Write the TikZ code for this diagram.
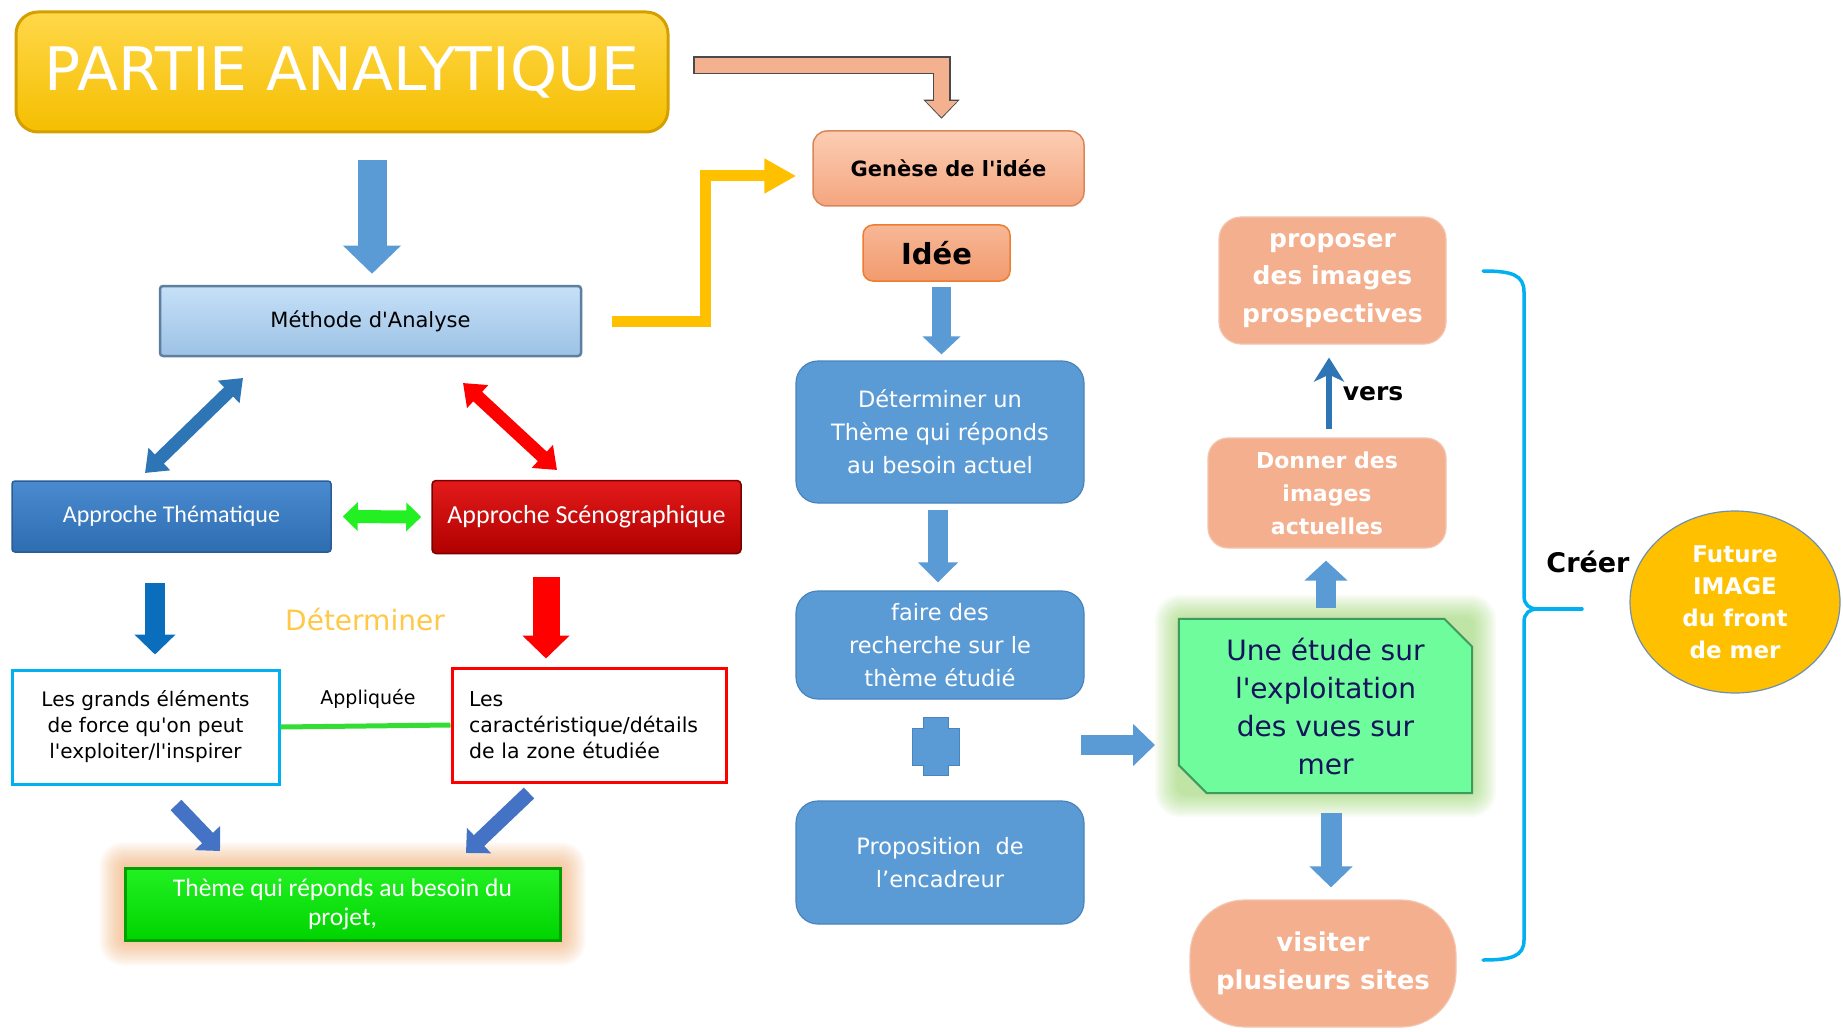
\documentclass[tikz,border=0pt]{standalone}
\usepackage{fontspec}
\setmainfont{DejaVu Sans}
\newfontfamily\calfont{Carlito}
\usetikzlibrary{arrows.meta,calc,backgrounds,shapes.geometric}
\newcommand\fsz[2]{\fontsize{#1pt}{#2pt}\selectfont}
\newcommand\sq{\textquotesingle}
\definecolor{gold1}{HTML}{FFD84A}
\definecolor{gold2}{HTML}{F5BE00}
\definecolor{goldd}{HTML}{D4A000}
\definecolor{ygold}{HTML}{FFC000}
\definecolor{mblue}{HTML}{5B9BD5}
\definecolor{mblued}{HTML}{4A84BC}
\definecolor{ablue}{HTML}{5B9BD5}
\definecolor{dblue}{HTML}{2E75B6}
\definecolor{tblue}{HTML}{0A6EBD}
\definecolor{pblue}{HTML}{4472C4}
\definecolor{salm}{HTML}{F4AF8E}
\definecolor{salmd}{HTML}{F2C6B0}
\definecolor{salmarr}{HTML}{F4B190}
\definecolor{salmarrd}{HTML}{4A4A4A}
\definecolor{lgreen}{HTML}{22F022}
\definecolor{lgreen2}{HTML}{33DD33}
\definecolor{egreen}{HTML}{6FFC9C}
\definecolor{egreend}{HTML}{3E9A5E}
\definecolor{navy}{HTML}{14145A}
\definecolor{detcol}{RGB}{255,200,70}
\definecolor{cyanb}{HTML}{00B0F0}
\definecolor{meth1}{HTML}{C6E0F8}
\definecolor{meth2}{HTML}{9CC2E5}
\definecolor{methd}{HTML}{5E7FA0}
\definecolor{them1}{HTML}{4A8AD0}
\definecolor{them2}{HTML}{2E6DB0}
\definecolor{themd}{HTML}{2A5D95}
\definecolor{scen1}{HTML}{E31A1A}
\definecolor{scen2}{HTML}{B00000}
\definecolor{scend}{HTML}{7A0000}
\definecolor{thm1}{HTML}{22F022}
\definecolor{thm2}{HTML}{00D400}
\definecolor{thmd}{HTML}{00A000}
\definecolor{gen1}{HTML}{FCCDB3}
\definecolor{gen2}{HTML}{F4A57E}
\definecolor{gend}{HTML}{D9875A}
\definecolor{ide1}{HTML}{F7B796}
\definecolor{ide2}{HTML}{F29B6E}
\definecolor{ided}{HTML}{ED7D31}
\definecolor{elld}{HTML}{6E8FB0}
\definecolor{glowo}{HTML}{F7A25B}
\definecolor{glowg}{HTML}{8CD45A}
\newcommand\glow[4]{%
  \foreach \k in {1,...,12}{%
    \fill[#2, fill opacity=0.06, rounded corners=#4+\k*1.5pt]
      ($(#1.north west)+({-\k*#3/12},{-\k*#3/12})$) rectangle ($(#1.south east)+({\k*#3/12},{\k*#3/12})$);
  }}
\begin{document}
\begin{tikzpicture}[x=1pt,y=-1pt,
  box/.style={rectangle, inner sep=0pt, align=center},
  mbox/.style={box, fill=mblue, draw=mblued, line width=1.2pt, rounded corners=22pt, minimum width=288pt, text=white, font=\fsz{22.5}{33}},
  sbox/.style={box, fill=salm, draw=salmd, line width=1.2pt, text=white},
  barrow/.style n args={4}{draw=#1, line width=#2, -{Triangle[width=#3,length=#4]}},
  dbarrow/.style n args={4}{draw=#1, line width=#2, {Triangle[width=#3,length=#4]}-{Triangle[width=#3,length=#4]}},
  brace/.style={draw=cyanb, line width=3.5pt, line cap=round},
]
\begin{scope}[on background layer]
\fill[white] (0,0) rectangle (1843,1032);
\end{scope}
\useasboundingbox (0,0) rectangle (1843,1032);

% ---------- nodes, left part
\node[box, minimum width=652pt, minimum height=120pt, rounded corners=22pt, top color=gold1, bottom color=gold2, draw=goldd, line width=3pt, text=white, font=\fsz{60}{72}] (title) at (342,72) {PARTIE ANALYTIQUE};
\node[box, minimum width=421pt, minimum height=70pt, rounded corners=3pt, top color=meth1, bottom color=meth2, draw=methd, line width=2.5pt, font=\fsz{21}{25}] (meth) at (370.5,321) {Méthode d\sq Analyse};
\node[box, minimum width=319pt, minimum height=71pt, rounded corners=3pt, top color=them1, bottom color=them2, draw=themd, line width=1.5pt, text=white, font=\calfont\fsz{24}{28}] (them) at (171.5,516.5) {Approche Thématique};
\node[box, minimum width=309pt, minimum height=73pt, rounded corners=4pt, top color=scen1, bottom color=scen2, draw=scend, line width=1.5pt, text=white, font=\calfont\fsz{26}{30}] (sceno) at (586.5,517) {Approche Scénographique};
\node[box, minimum width=267pt, minimum height=114pt, draw=cyanb, line width=3pt, font=\fsz{20}{26}] (grands) at (145.5,727) {Les grands éléments\\de force qu\sq on peut\\l\sq exploiter/l\sq inspirer};
\node[box, minimum width=274pt, minimum height=114pt, draw=red, line width=3pt, align=left, text width=240pt, font=\fsz{20.5}{26}] (carac) at (589,725) {Les\\caractéristique/détails\\de la zone étudiée};
\node[box, minimum width=435pt, minimum height=72pt, top color=thm1, bottom color=thm2, draw=thmd, line width=3pt, text=white, font=\calfont\fsz{25.5}{29}] (theme) at (342.5,904) {Thème qui réponds au besoin du\\projet,};
\node[box, text=detcol, font=\fsz{28}{32}] (detlbl) at (365,619) {Déterminer};
\node[box, font=\fsz{19}{22}] (appl) at (368,699) {Appliquée};

% ---------- middle column
\node[box, minimum width=271pt, minimum height=75pt, rounded corners=14pt, top color=gen1, bottom color=gen2, draw=gend, line width=1.5pt, font=\bfseries\fsz{21}{25}] (genese) at (948.5,168.5) {Genèse de l\sq idée};
\node[box, minimum width=147pt, minimum height=56pt, rounded corners=10pt, top color=ide1, bottom color=ide2, draw=ided, line width=1.5pt, font=\bfseries\fsz{29}{32}] (idee) at (936.5,253) {Idée};
\node[mbox, minimum height=142pt] (det) at (940,432) {Déterminer un\\Thème qui réponds\\au besoin actuel};
\node[mbox, minimum height=108pt] (faire) at (940,645) {faire des\\recherche sur le\\thème étudié};
\node[mbox, minimum height=123pt] (prop) at (940,862.5) {Proposition\ \ de\\l’encadreur};

% ---------- right column
\node[sbox, minimum width=227pt, minimum height=127pt, rounded corners=22pt, font=\bfseries\fsz{25}{37.5}] (propo) at (1332.5,280.5) {proposer\\des images\\prospectives};
\node[sbox, minimum width=238pt, minimum height=110pt, rounded corners=20pt, font=\bfseries\fsz{22}{33}] (donner) at (1327,493) {Donner des\\images\\actuelles};
\node[box, minimum width=293pt, minimum height=174pt, text=navy, font=\fsz{28}{38}] (etude) at (1325.5,706) {Une étude sur\\l\sq exploitation\\des vues sur\\mer};
\node[sbox, minimum width=266pt, minimum height=127pt, rounded corners=55pt, font=\bfseries\fsz{26}{38}] (visiter) at (1323,963.5) {visiter\\plusieurs sites};
\node[ellipse, inner sep=0pt, align=center, minimum width=210pt, minimum height=182pt, fill=ygold, draw=elld, line width=1.2pt, text=white, font=\bfseries\fsz{23}{32}] (future) at (1735,602) {Future\\IMAGE\\du front\\de mer};
\node[box, font=\bfseries\fsz{25}{28}] (vers) at (1373,394) {vers};
\node[box, font=\bfseries\fsz{27}{30}] (creer) at (1588,562) {Créer};

% ---------- backgrounds: glows and chamfered box
\begin{scope}[on background layer]
\glow{theme}{glowo}{24}{6pt}
\glow{etude}{glowg}{24}{8pt}
\fill[egreen, draw=egreend, line width=2pt] (etude.north west) -- ([xshift=-28pt]etude.north east) -- ([yshift=-28pt]etude.north east) -- (etude.south east) -- ([xshift=28pt]etude.south west) -- ([yshift=28pt]etude.south west) -- cycle;
\end{scope}

% ---------- connectors
\draw[barrow={ablue}{29pt}{56pt}{28pt}, shorten <=27pt, shorten >=11pt] ([xshift=30pt]title.south) -- ([xshift=1.5pt]meth.north);
\draw[draw=salmarrd, line width=18pt, line join=miter, -{Triangle[width=35pt,length=19pt]}, shorten >=11.5pt, shorten <=-1.5pt] ([shift={(25pt,6.5pt)}]title.east) -| ([xshift=-7pt]genese.north);
\draw[draw=salmarr, line width=15pt, line join=miter, -{Triangle[width=30pt,length=16pt]}, shorten >=13pt] ([shift={(25pt,6.5pt)}]title.east) -| ([xshift=-7pt]genese.north);
\draw[draw=ygold, line width=11pt, line join=miter, -{Triangle[width=33pt,length=32pt]}, shorten >=16pt] ([xshift=30pt]meth.east) -- ++(93.5,0) |- ([yshift=-7.5pt]genese.west);

\coordinate (d1a) at (145,473); \coordinate (d1b) at (243,378);
\coordinate (d2a) at (463,383); \coordinate (d2b) at (557,470);
\draw[dbarrow={dblue}{13pt}{30pt}{20pt}] (d1a) -- (d1b);
\draw[dbarrow={red}{13pt}{30pt}{20pt}] (d2a) -- (d2b);
\draw[dbarrow={lgreen}{13pt}{28pt}{15pt}, shorten <=11pt, shorten >=10pt] (them.east) -- (sceno.west);
\draw[barrow={tblue}{20pt}{40pt}{20pt}, shorten <=30pt, shorten >=14pt] ([xshift=-16.5pt]them.south) -- ([xshift=9.5pt]grands.north);
\draw[barrow={red}{27pt}{46pt}{23pt}, shorten <=23pt, shorten >=8pt] ([xshift=-40.5pt]sceno.south) -- ([xshift=-43pt]carac.north);
\draw[lgreen2, line width=5pt] (grands.east) -- (carac.west);
\coordinate (d3a) at (176,805); \coordinate (d3b) at (220,851);
\coordinate (d4a) at (529,793); \coordinate (d4b) at (466,853);
\draw[barrow={pblue}{15pt}{34pt}{18pt}] (d3a) -- (d3b);
\draw[barrow={pblue}{15pt}{34pt}{18pt}] (d4a) -- (d4b);

\draw[barrow={mblue}{19pt}{37pt}{18pt}, shorten <=5pt, shorten >=6pt] ([xshift=5pt]idee.south) -- ([xshift=1.5pt]det.north);
\draw[barrow={mblue}{20pt}{39pt}{20pt}, shorten <=6pt, shorten >=8pt] ([xshift=-2pt]det.south) -- ([xshift=-2pt]faire.north);
\coordinate (plusc) at (935.5,746.5);
\filldraw[fill=mblue, draw=mblued, line width=1pt, shift={(plusc)}] (-12.5,-29) -- (12.5,-29) -- (12.5,-18.5) -- (23.5,-18.5) -- (23.5,18.5) -- (12.5,18.5) -- (12.5,29) -- (-12.5,29) -- (-12.5,18.5) -- (-23.5,18.5) -- (-23.5,-18.5) -- (-12.5,-18.5) -- cycle;
\coordinate (r1a) at (1081,745); \coordinate (r1b) at (1155,745);
\draw[barrow={mblue}{20pt}{41pt}{22pt}] (r1a) -- (r1b);

\draw[barrow={mblue}{20pt}{42pt}{20pt}, shorten <=11pt, shorten >=12pt] ([xshift=0.5pt]etude.north) -- ([xshift=-1pt]donner.south);
\draw[draw=dblue, line width=6pt, -{Stealth[width=30pt,length=24pt,inset=7pt]}, shorten <=8pt, shorten >=13pt] ([xshift=2pt]donner.north) -- ([xshift=-3.5pt]propo.south);
\draw[barrow={mblue}{21pt}{42pt}{21pt}, shorten <=20pt, shorten >=12pt] ([xshift=5.5pt]etude.south) -- ([xshift=8pt]visiter.north);

% brace
\coordinate (brtop) at (1483,271);
\coordinate (brbot) at (1483,960);
\coordinate (brtip) at (1537,609);
\coordinate (brend) at (1582,609);
\draw[brace] (brtop) .. controls (1512,271) and (1524,275) .. (1524,292) -- (1524,596) .. controls (1524,605) and (1530,609) .. (brtip) .. controls (1530,609) and (1524,613) .. (1524,622) -- (1524,940) .. controls (1524,956) and (1512,960) .. (brbot);
\draw[brace] (brtip) -- (brend);
\end{tikzpicture}
\end{document}
